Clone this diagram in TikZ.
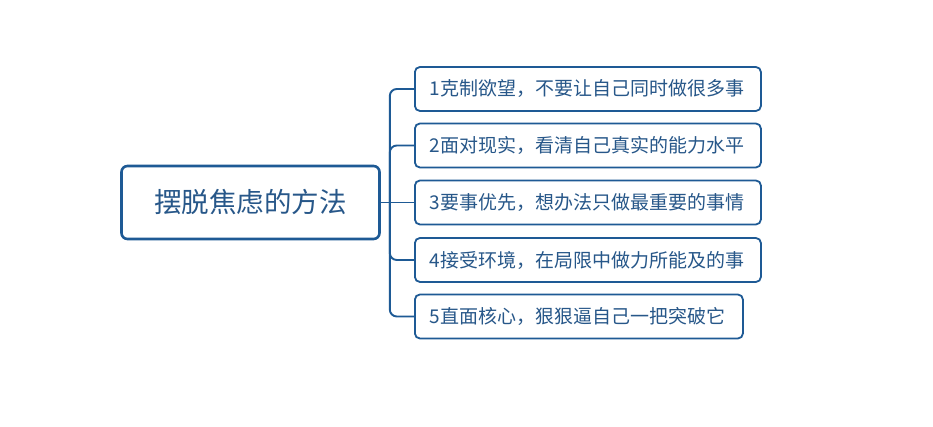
\documentclass[tikz,border=0pt]{standalone}
\usepackage{fontspec}
\setmainfont{Noto Sans CJK SC}
\definecolor{bordc}{HTML}{1E5A95}
\definecolor{txtc}{HTML}{275789}
\begin{document}
\begin{tikzpicture}[x=1pt,y=1pt,
  rootbox/.style={draw=bordc, line width=2.6pt, rounded corners=6pt, fill=white,
    minimum width=258pt, minimum height=73pt, inner sep=0pt,
    text=txtc, font=\fontsize{27.5}{30}\selectfont},
  itembox/.style={draw=bordc, line width=1.8pt, rounded corners=5pt, fill=white,
    minimum height=44pt, inner xsep=15pt, inner ysep=0pt, anchor=west,
    text=txtc, font=\fontsize{19}{21}\selectfont, align=left},
  link/.style={draw=bordc, line width=1.9pt, rounded corners=7pt}]
\useasboundingbox (0,0) rectangle (933,427);
\fill[white] (0,0) rectangle (933,427);
\node[rootbox] (root) at (250.5,224.5) {摆脱焦虑的方法};
\node[itembox, text width=316pt] (c1) at (414,338) {1克制欲望，不要让自己同时做很多事};
\node[itembox, text width=316pt] (c2) at (414,281.5) {2面对现实，看清自己真实的能力水平};
\node[itembox, text width=316pt] (c3) at (414,224.5) {3要事优先，想办法只做最重要的事情};
\node[itembox, text width=316pt] (c4) at (414,167) {4接受环境，在局限中做力所能及的事};
\node[itembox, text width=298pt] (c5) at (414,110.5) {5直面核心，狠狠逼自己一把突破它};
\coordinate (j) at ([xshift=9pt]root.east);
\draw[link] (root.east) -- (c3.west);
\draw[link] (j) |- (c1.west);
\draw[link] (j) |- (c2.west);
\draw[link] (j) |- (c4.west);
\draw[link] (j) |- (c5.west);
\end{tikzpicture}
\end{document}
